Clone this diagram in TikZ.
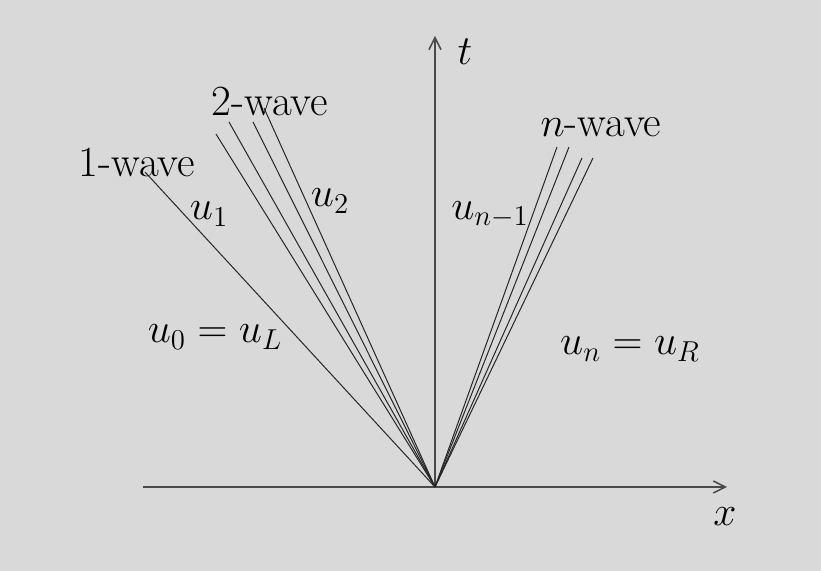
\documentclass[tikz,border=0pt]{standalone}
\usetikzlibrary{arrows.meta}
\definecolor{bg}{HTML}{D9D9D9}
\definecolor{axisc}{HTML}{4A4A4A}
\begin{document}
\begin{tikzpicture}[x=0.5pt,y=-0.5pt,
  wave/.style={line width=0.5pt,black!85},
  axis/.style={line width=0.75pt,axisc,-{Straight Barb[length=6pt,width=6pt]}},
  lab/.style={inner sep=0pt,font=\fontsize{21.5}{25}\selectfont}]
\fill[bg] (0,0) rectangle (821,571);
\useasboundingbox (0,0) rectangle (821,571);
\coordinate (O) at (435,487);
\coordinate (xl) at (143,487);
\coordinate (xr) at (727,487);
\coordinate (tt) at (435,36);
\draw[axis] (xl) -- (xr);
\draw[axis] (O) -- (tt);
% 1-wave
\coordinate (w1) at (145,172);
\draw[wave] (O) -- (w1);
% 2-wave fan
\coordinate (a1) at (216,134);
\coordinate (a2) at (229,122);
\coordinate (a3) at (253,122);
\coordinate (a4) at (264,108);
\foreach \p in {a1,a2,a3,a4} \draw[wave] (O) -- (\p);
% n-wave fan
\coordinate (b1) at (557,147);
\coordinate (b2) at (569,147);
\coordinate (b3) at (582,158);
\coordinate (b4) at (593,158);
\foreach \p in {b1,b2,b3,b4} \draw[wave] (O) -- (\p);
% labels
\node[lab] (l1) at (137,162) {1-wave};
\node[lab] (l2) at (270,101) {2-wave};
\node[lab] (ln) at (601,127) {$n$-wave};
\node[lab] (u1) at (209,214) {$u_1$};
\node[lab] (u2) at (330,201) {$u_2$};
\node[lab] (unm) at (490,215) {$u_{n-1}$};
\node[lab] (u0) at (215,337) {$u_0=u_L$};
\node[lab] (un) at (630,349) {$u_n=u_R$};
\node[lab] (tl) at (465,52) {$t$};
\node[lab] (xlab) at (725,517) {$x$};
\end{tikzpicture}
\end{document}
